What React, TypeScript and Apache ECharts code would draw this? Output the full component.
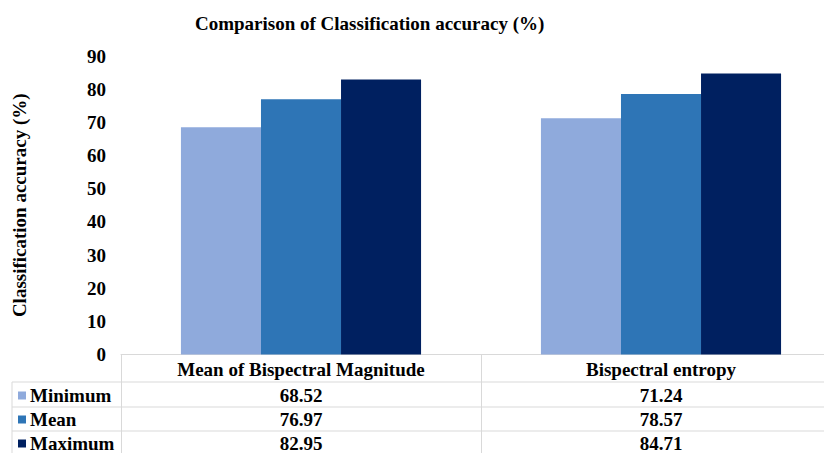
import React, { useEffect, useRef } from "react";
import * as echarts from "echarts";

const categories = ["Mean of Bispectral Magnitude", "Bispectral entropy"];
const seriesNames = ["Minimum", "Mean", "Maximum"];
const minimumValues = [68.52, 71.24];
const meanValues = [76.97, 78.57];
const maximumValues = [82.95, 84.71];
const seriesColors = ["#8FAADC", "#2E75B6", "#002060"];
const yTicks = { min: 0, max: 90, interval: 10 };

const FONT = "Liberation Serif";
const LINE = "#d9d9d9";

export default function App() {
  const ref = useRef<HTMLDivElement>(null);
  useEffect(() => {
    document.body.style.margin = "0";
    const chart = echarts.init(ref.current!, null, { renderer: "svg" });
    const seriesValues = [minimumValues, meanValues, maximumValues];
    const rowMargins = [41, 65, 89];
    const textBase = { fontFamily: FONT, fontWeight: "bold" as const, fontSize: 19, color: "#000" };

    const valueAxes = seriesValues.map((vals, i) => ({
      type: "category" as const,
      gridIndex: 0,
      position: "bottom" as const,
      data: vals.map((v) => v.toFixed(2)),
      axisLine: { show: false },
      axisTick: { show: false },
      axisLabel: { ...textBase, margin: rowMargins[i], verticalAlign: "middle" as const, interval: 0 },
    }));

    chart.setOption({
      animation: false,
      backgroundColor: "#fff",
      textStyle: { fontFamily: FONT },
      title: {
        text: "Comparison of Classification accuracy (%)",
        left: 195,
        top: 14,
        padding: 0,
        textStyle: { ...textBase },
      },
      legend: {
        orient: "vertical",
        left: 18,
        top: 386,
        height: 100,
        padding: 0,
        itemGap: 5,
        itemWidth: 8,
        itemHeight: 8,
        icon: "rect",
        selectedMode: false,
        data: seriesNames,
        textStyle: { ...textBase, lineHeight: 17, padding: [0, 0, 0, -1] },
      },
      grid: { left: 121, width: 720, top: 56, bottom: 98.5, containLabel: false },
      xAxis: [
        {
          type: "category",
          data: categories,
          axisLine: { show: true, lineStyle: { color: LINE, width: 1 } },
          axisTick: { show: true, length: 100, lineStyle: { color: LINE, width: 1 } },
          axisLabel: { ...textBase, margin: 15, verticalAlign: "middle", interval: 0 },
        },
        ...valueAxes,
      ],
      yAxis: {
        type: "value",
        min: yTicks.min,
        max: yTicks.max,
        interval: yTicks.interval,
        name: "Classification accuracy (%)",
        nameLocation: "middle",
        nameRotate: 90,
        nameGap: 92,
        nameTextStyle: { ...textBase },
        axisLine: { show: false },
        axisTick: { show: false },
        splitLine: { show: false },
        axisLabel: { ...textBase, margin: 15 },
      },
      series: seriesNames.map((name, i) => ({
        name,
        type: "bar",
        xAxisIndex: 0,
        yAxisIndex: 0,
        data: seriesValues[i],
        barGap: "0%",
        barCategoryGap: "33.3%",
        itemStyle: { color: seriesColors[i] },
      })),
      graphic: [
        { type: "line", shape: { x1: 12, y1: 382, x2: 860, y2: 382 }, style: { stroke: LINE, lineWidth: 1 } },
        { type: "line", shape: { x1: 12, y1: 407, x2: 860, y2: 407 }, style: { stroke: LINE, lineWidth: 1 } },
        { type: "line", shape: { x1: 12, y1: 431, x2: 860, y2: 431 }, style: { stroke: LINE, lineWidth: 1 } },
        { type: "line", shape: { x1: 12, y1: 382, x2: 12, y2: 453 }, style: { stroke: LINE, lineWidth: 1 } },
      ],
    });
    return () => chart.dispose();
  }, []);
  return (
    <div style={{ width: 824, height: 453, overflow: "hidden", position: "relative" }}>
      <div ref={ref} style={{ width: 860, height: 453 }} />
    </div>
  );
}
